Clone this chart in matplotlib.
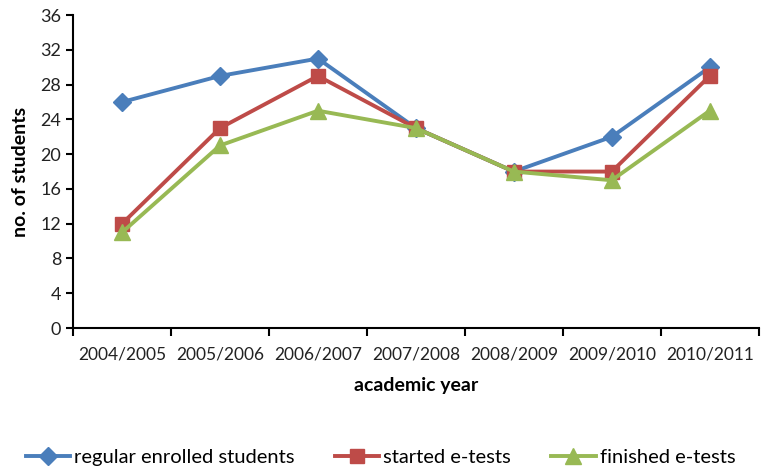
import matplotlib
matplotlib.use("Agg")
import matplotlib.pyplot as plt
import numpy as np

plt.rcParams['font.family'] = ['Lato', 'DejaVu Sans']

years = ["2004/2005", "2005/2006", "2006/2007", "2007/2008", "2008/2009", "2009/2010", "2010/2011"]
regular = [26, 29, 31, 23, 18, 22, 30]
started = [12, 23, 29, 23, 18, 18, 29]
finished = [11, 21, 25, 23, 18, 17, 25]
yticks = list(range(0, 37, 4))

fig = plt.figure(figsize=(7.61, 4.72), dpi=100)
ax = fig.add_axes([0.096, 0.305, 0.901, 0.663])

x = np.arange(len(years))
ax.plot(x, regular, color='#4A7EBB', lw=2.8, marker='D', ms=9, label='regular enrolled students')
ax.plot(x, started, color='#BE4B48', lw=2.8, marker='s', ms=10.5, label='started e-tests')
ax.plot(x, finished, color='#98B954', lw=2.8, marker='^', ms=12, label='finished e-tests')

ax.set_xlim(-0.5, len(years) - 0.5)
ax.set_ylim(0, 36)
ax.set_yticks(yticks)
ax.set_xticks(x)
ax.set_xticklabels(years)
ax.set_xticks(np.arange(-0.5, len(years), 1.0), minor=True)
ax.tick_params(axis='x', which='major', length=0, pad=13, labelsize=12.5, labelcolor='#222222')
ax.tick_params(axis='x', which='minor', length=6, width=1.5, direction='out')
ax.tick_params(axis='y', length=5, width=1.5, direction='out', labelsize=13, labelcolor='#222222')

for s in ['top', 'right']:
    ax.spines[s].set_visible(False)
for s in ['left', 'bottom']:
    ax.spines[s].set_linewidth(1.5)

ax.set_xlabel('academic year', fontsize=14, fontweight='bold', labelpad=11)
ax.set_ylabel('no. of students', fontsize=14, fontweight='bold', labelpad=8)

fig.legend(loc='lower center', bbox_to_anchor=(0.5, -0.025), ncol=3, frameon=False,
           fontsize=14.5, handlelength=2.2, columnspacing=2.0, handletextpad=0.2)

fig.savefig('out.png', dpi=100)
